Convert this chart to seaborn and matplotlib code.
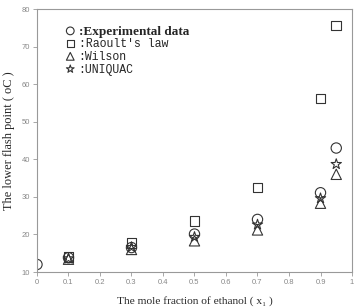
import matplotlib
matplotlib.use("Agg")
import matplotlib.pyplot as plt
import seaborn as sns
import pandas as pd

# mole fraction of ethanol
x_exp = [0.0, 0.1, 0.3, 0.5, 0.7, 0.9, 0.95]
y_exp = [12.0, 13.8, 16.5, 20.1, 24.0, 31.1, 43.0]

x_calc = [0.1, 0.3, 0.5, 0.7, 0.9, 0.95]
y_raoult = [14.0, 17.8, 23.6, 32.5, 56.2, 75.6]
y_wilson = [13.4, 16.0, 18.3, 21.2, 28.3, 36.0]
y_uniquac = [13.6, 16.6, 19.3, 22.6, 29.6, 38.7]

x_ticks = [0, 0.1, 0.2, 0.3, 0.4, 0.5, 0.6, 0.7, 0.8, 0.9, 1]
x_ticklabels = ["0", "0.1", "0.2", "0.3", "0.4", "0.5", "0.6", "0.7", "0.8", "0.9", "1"]
y_ticks = [10, 20, 30, 40, 50, 60, 70, 80]

series = [
    (":Experimental data", x_exp, y_exp, "o", 55),
    (":Raoult's law", x_calc, y_raoult, "s", 50),
    (":Wilson", x_calc, y_wilson, "^", 55),
    (":UNIQUAC", x_calc, y_uniquac, "*", 60),
]

sns.set_style("white")
plt.rcParams["font.family"] = ["Liberation Serif", "DejaVu Serif"]

fig = plt.figure(figsize=(3.57, 3.07), dpi=100)
ax = fig.add_axes([0.1036, 0.114, 0.8824, 0.8566])

for nome, xs, ys, marca, tam in series:
    df = pd.DataFrame({"x": xs, "y": ys})
    sns.scatterplot(data=df, x="x", y="y", marker=marca, s=tam, color="#333333",
                    facecolor="none", edgecolor="#333333", linewidth=0.8,
                    label=nome, ax=ax)

ax.set_xlim(0, 1)
ax.set_ylim(10, 80)
ax.set_xticks(x_ticks)
ax.set_xticklabels(x_ticklabels)
ax.set_yticks(y_ticks)
ax.tick_params(axis="both", which="both", direction="out", length=3, width=0.6,
               colors="#999999", labelsize=5.5, labelcolor="#888888", pad=2,
               bottom=True, left=True)
for t in ax.get_xticklabels() + ax.get_yticklabels():
    t.set_fontfamily(["Liberation Sans", "DejaVu Sans"])
for lado in ax.spines.values():
    lado.set_color("#999999")
    lado.set_linewidth(0.8)

ax.set_xlabel("The mole fraction of ethanol ( x\u2081 )", fontsize=8.2, labelpad=7)
ax.set_ylabel("The lower flash point ( oC )", fontsize=8.9, labelpad=5)

leg = ax.legend(loc="upper left", bbox_to_anchor=(0.088, 0.94), frameon=False,
                handlelength=0.8, handletextpad=0.2, labelspacing=0.0,
                markerscale=0.75, borderaxespad=0, borderpad=0)
textos = leg.get_texts()
textos[0].set_fontfamily(["Liberation Serif", "DejaVu Serif"])
textos[0].set_fontweight("bold")
textos[0].set_fontsize(9.5)
for t in textos[1:]:
    t.set_fontfamily(["Liberation Mono", "DejaVu Sans Mono"])
    t.set_fontsize(8.3)

fig.savefig("out.png", dpi=100)
